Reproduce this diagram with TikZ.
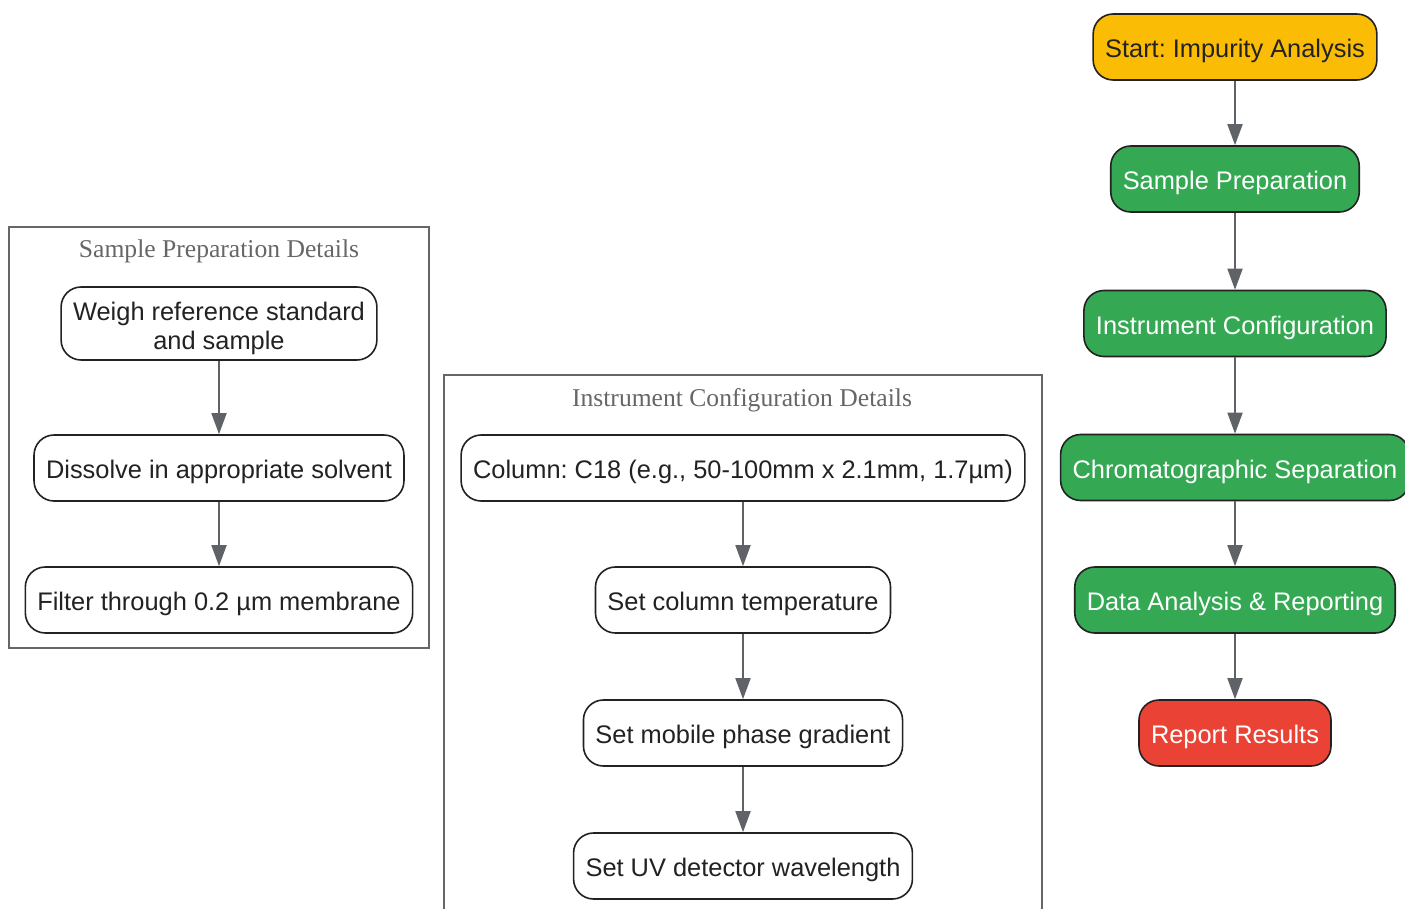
\documentclass[tikz,border=0pt]{standalone}
\usepackage{fontspec}
\setmainfont{Liberation Sans}
\newfontfamily\titlefont{Liberation Serif}
\usepackage{xcolor}
\usepackage{tikz}
\usetikzlibrary{positioning,arrows.meta}
\frenchspacing

\definecolor{startyellow}{HTML}{FBBC05}
\definecolor{stepgreen}{HTML}{34A853}
\definecolor{endred}{HTML}{EA4335}
\definecolor{linkgray}{HTML}{5F6368}
\definecolor{framegray}{HTML}{666666}
\definecolor{inkdark}{HTML}{222222}

\tikzset{
  box/.style={draw=inkdark, line width=1.6pt, rounded corners=20pt, minimum height=66pt,
    inner xsep=12pt, align=center, text=inkdark, fill=white,
    text height=21pt, text depth=0pt,
    font=\fontsize{25.4}{29}\selectfont},
  flowgreen/.style={box, fill=stepgreen, text=white},
  link/.style={draw=linkgray, line width=1.8pt, -{Triangle[width=15pt,length=21pt]}},
  cluster/.style={draw=framegray, line width=1.6pt},
  clustertitle/.style={text=framegray, anchor=base, font=\titlefont\fontsize{25.6}{29}\selectfont}
}

\begin{document}
\begin{tikzpicture}[x=1pt,y=-1pt]
\useasboundingbox (0,0) rectangle (1405,909);
\clip (0,0) rectangle (1405,909);

% Clusters
\draw[cluster] (9,227) rectangle (429,648);
\node[clustertitle] (preptitle) at (219,258) {Sample Preparation Details};
\draw[cluster] (444,375) rectangle (1042,940);
\node[clustertitle] (conftitle) at (742,406) {Instrument Configuration Details};

% Main flow
\node[box, fill=startyellow] (start) at (1235,47) {Start: Impurity Analysis};
\node[flowgreen] (prep) at (1235,179) {Sample Preparation};
\node[flowgreen] (config) at (1235,323.5) {Instrument Configuration};
\node[flowgreen] (sep) at (1235,467.5) {Chromatographic Separation};
\node[flowgreen] (analysis) at (1235,600) {Data Analysis \& Reporting};
\node[box, fill=endred, text=white] (report) at (1235,733) {Report Results};

% Sample preparation steps
\node[box, minimum height=73pt, text height=51pt] (weigh) at (219,323.5) {Weigh reference standard\\and sample};
\node[box] (dissolve) at (219,468) {Dissolve in appropriate solvent};
\node[box] (filter) at (219,600) {Filter through 0.2 µm membrane};

% Instrument steps
\node[box] (column) at (743,468) {Column: C18 (e.g., 50-100mm x 2.1mm, 1.7µm)};
\node[box] (temp) at (743,600) {Set column temperature};
\node[box] (gradient) at (743,733) {Set mobile phase gradient};
\node[box] (detector) at (743,866) {Set UV detector wavelength};

% Arrows
\foreach \a/\b in {start/prep, prep/config, config/sep, sep/analysis, analysis/report,
    weigh/dissolve, dissolve/filter, column/temp, temp/gradient, gradient/detector}
  \draw[link] (\a) -- (\b);
\end{tikzpicture}
\end{document}
